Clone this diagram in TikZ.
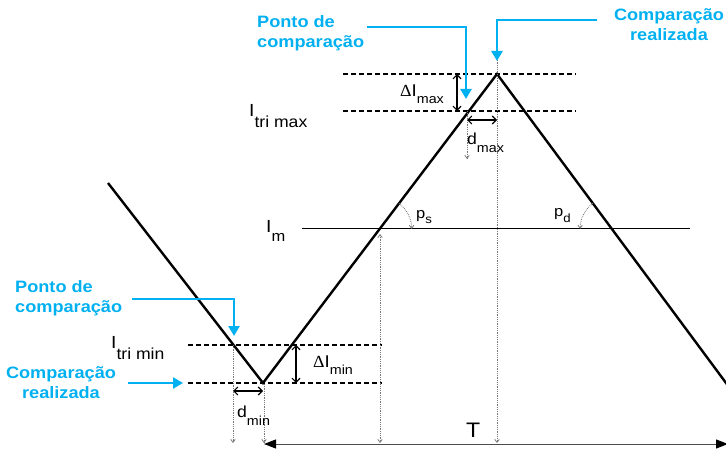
\documentclass[tikz,border=0pt]{standalone}
\usepackage{fontspec}
\setmainfont[FakeStretch=1.1]{Liberation Sans}
\newfontfamily\dfont[FakeStretch=1.05]{Liberation Serif}
\newfontfamily\bluefont[FakeStretch=1.1]{Liberation Sans}
\usetikzlibrary{arrows.meta}
\definecolor{cyanblue}{RGB}{0,176,240}
\definecolor{guidegray}{RGB}{120,120,120}
\newcommand{\subdrop}[3]{\raisebox{-#1pt}{\fontsize{#2}{#2}\selectfont #3}}
\begin{document}
\begin{tikzpicture}[x=1pt,y=-1pt,
  wave/.style={line width=2.4pt, black, line join=miter},
  lvl/.style={dash pattern=on 5pt off 3pt, line width=1.1pt},
  guide/.style={densely dotted, guidegray, line width=0.8pt, -{Straight Barb[length=3pt,width=4.5pt]}},
  guideboth/.style={densely dotted, guidegray, line width=0.8pt, {Straight Barb[length=3pt,width=4.5pt]}-{Straight Barb[length=3pt,width=4.5pt]}},
  dimarrow/.style={line width=1.1pt, {Straight Barb[length=4pt,width=8pt]}-{Straight Barb[length=4pt,width=8pt]}},
  callout/.style={cyanblue, line width=2.6pt, -{Triangle[length=10pt,width=11pt]}},
  bluetxt/.style={text=cyanblue, font=\bluefont\bfseries\fontsize{16.5}{20.5}\selectfont, inner sep=0pt},
  lbl/.style={inner sep=0pt, anchor=base west},
]
\useasboundingbox (0,0) rectangle (726,449);

% triangular wave
\coordinate (w0) at (108,183);
\coordinate (wmin) at (263,383);
\coordinate (wmax) at (497,74);
\coordinate (w3) at (729,387);
\draw[wave] (w0) -- (wmin) -- (wmax) -- (w3);

% level lines
\draw[lvl] (343,74) -- (576,74);
\draw[lvl] (343,111) -- (576,111);
\draw[lvl] (188,345) -- (382,345);
\draw[lvl] (188,383) -- (382,383);
\draw[line width=1pt] (302,229) -- (690,229);

% guides
\draw[guide] (467,111) -- (467,159);
\draw[guide] (497,40) -- (497,443);
\draw[guide] (233,345) -- (233,443);
\draw[guide] (264,384) -- (264,443);
\draw[guideboth] (380,234) -- (380,443);

% period arrow
\draw[gray!60!black, line width=1pt, {Triangle[length=12pt,width=9pt,black]}-{Triangle[length=12pt,width=9pt,black]}] (264,444) -- (728,444);

% dimension arrows
\draw[dimarrow] (457,74) -- (457,111);
\draw[dimarrow] (296,345) -- (296,383);
\draw[dimarrow] (467,120) -- (497,120);
\draw[dimarrow] (233,391) -- (263,391);

% angle arcs
\draw[guide] (398.9,203.4) arc[start angle=53, end angle=0, radius=32pt];
\draw[guide] (592.9,203.3) arc[start angle=127, end angle=180, radius=32pt];

% labels
\node[lbl] (itrimax) at (249,117) {\fontsize{17.5}{18}\selectfont I\subdrop{11}{16}{tri max}};
\node[lbl] (im) at (266,233) {\fontsize{17.5}{18}\selectfont I\subdrop{9}{15}{m}};
\node[lbl] (itrimin) at (111,348) {\fontsize{17.5}{18}\selectfont I\subdrop{12}{16}{tri min}};
\node[lbl] (dimax) at (400,97) {\fontsize{17}{18}\selectfont{\dfont Δ}I\subdrop{7}{13}{max}};
\node[lbl] (dimin) at (313,367) {\fontsize{17}{18}\selectfont{\dfont Δ}I\subdrop{7}{13}{min}};
\node[lbl] (dmax) at (467,145) {\fontsize{16}{16}\selectfont d\subdrop{8}{13}{max}};
\node[lbl] (dmin) at (237,417) {\fontsize{16}{16}\selectfont d\subdrop{8}{13}{min}};
\node[lbl] (ps) at (416,219) {\fontsize{15}{15}\selectfont p\subdrop{5}{12}{s}};
\node[lbl] (pd) at (554,217) {\fontsize{15}{15}\selectfont p\subdrop{6}{12}{d}};
\node[lbl] (T) at (466,437) {\fontsize{21}{21}\selectfont T};

% blue callouts
\node[bluetxt, anchor=north west, align=left] (pc1) at (257,15) {Ponto de\\comparação};
\node[bluetxt, anchor=north, align=center] (cr1) at (669,8) {Comparação\\realizada};
\node[bluetxt, anchor=north west, align=left] (pc2) at (15,280) {Ponto de\\comparação};
\node[bluetxt, anchor=north, align=center] (cr2) at (61,366) {Comparação\\realizada};

\coordinate (pc1a) at (367,27);
\coordinate (pc1b) at (466,27);
\coordinate (pc1c) at (466,99);
\draw[callout] (pc1a) -- (pc1b) -- (pc1c);
\coordinate (cr1a) at (597,20);
\coordinate (cr1b) at (497,20);
\coordinate (cr1c) at (497,61);
\draw[callout] (cr1a) -- (cr1b) -- (cr1c);
\coordinate (pc2a) at (132,299);
\coordinate (pc2b) at (234,299);
\coordinate (pc2c) at (234,336);
\draw[callout] (pc2a) -- (pc2b) -- (pc2c);
\coordinate (cr2a) at (128,383);
\coordinate (cr2b) at (183,383);
\draw[callout] (cr2a) -- (cr2b);
\end{tikzpicture}
\end{document}
